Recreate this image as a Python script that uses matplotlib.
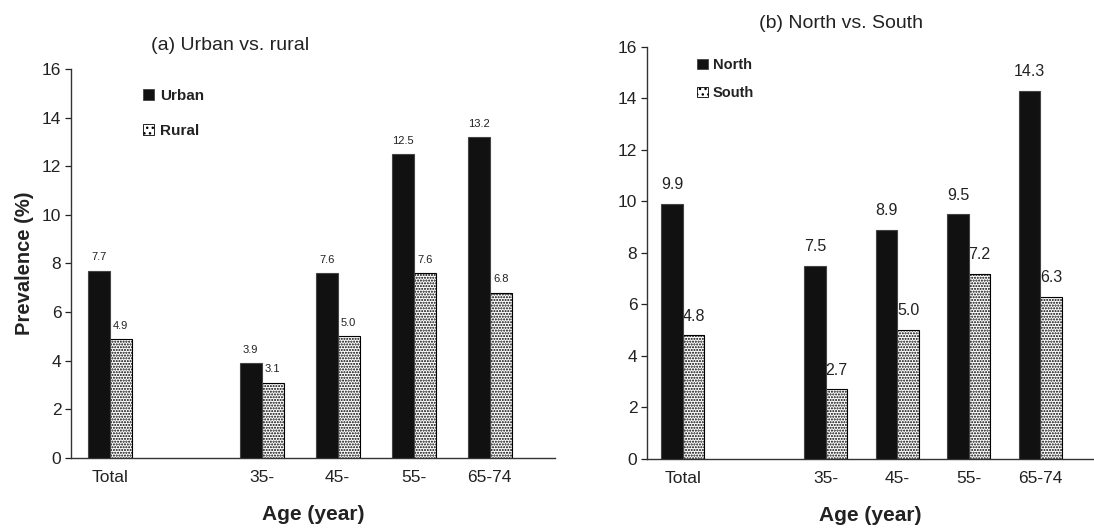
import matplotlib
matplotlib.use('Agg')

import matplotlib.pyplot as plt
from matplotlib.patches import Patch

plt.rcParams['font.family'] = ['Liberation Sans', 'DejaVu Sans']
plt.rcParams['hatch.linewidth'] = 1.0

# categories (slot 1 is left empty between Total and the age groups)
categories = ['Total', '35-', '45-', '55-', '65-74']
positions = [0, 2, 3, 4, 5]

urban = [7.7, 3.9, 7.6, 12.5, 13.2]
rural = [4.9, 3.1, 5.0, 7.6, 6.8]
north = [9.9, 7.5, 8.9, 9.5, 14.3]
south = [4.8, 2.7, 5.0, 7.2, 6.3]

yticks = [0, 2, 4, 6, 8, 10, 12, 14, 16]

dark = '#111111'
ink = '#222222'

fig = plt.figure(figsize=(10.94, 5.28), dpi=100, facecolor='white')
ax_a = fig.add_axes([0.0649, 0.1326, 0.4424, 0.7367])
ax_b = fig.add_axes([0.5914, 0.1307, 0.4086, 0.7803])


def draw_panel(ax, solid, dotted, names, width, xlim, val_size, val_off,
               legend_xy, legend_size, legend_gap):
    xs_solid = [p - width / 2 for p in positions]
    xs_dotted = [p + width / 2 for p in positions]
    ax.bar(xs_solid, solid, width, color=dark, edgecolor='#444444',
           linewidth=0.8, zorder=3)
    ax.bar(xs_dotted, dotted, width, color='white', edgecolor='black',
           hatch='......', linewidth=0.8, zorder=2)

    for x, v in zip(xs_solid, solid):
        ax.annotate(f'{v:.1f}', (x, v), xytext=(0, val_off),
                    textcoords='offset points', ha='center', va='bottom',
                    fontsize=val_size, color=ink, zorder=4)
    # dotted-bar labels sit under the solid bars where they overlap
    for x, v in zip(xs_dotted, dotted):
        ax.annotate(f'{v:.1f}', (x, v), xytext=(0, val_off),
                    textcoords='offset points', ha='center', va='bottom',
                    fontsize=val_size, color=ink, zorder=2.5)

    ax.set_xlim(*xlim)
    ax.set_ylim(0, 16)
    ax.set_yticks(yticks)
    ax.set_xticks(positions)
    ax.set_xticklabels(categories)
    ax.tick_params(axis='x', length=0, pad=9, labelsize=12.5, colors=ink)
    ax.tick_params(axis='y', length=4, width=0.9, pad=3, labelsize=12.5,
                   colors=ink, direction='out')
    for s in ['top', 'right']:
        ax.spines[s].set_visible(False)
    for s in ['left', 'bottom']:
        ax.spines[s].set_color('#333333')
        ax.spines[s].set_linewidth(1.0)
    ax.set_xlabel('Age (year)', fontsize=15, fontweight='bold', color=ink,
                  labelpad=14)

    handles = [Patch(facecolor=dark, edgecolor='#444444', linewidth=0.6),
               Patch(facecolor='white', edgecolor='black', hatch='...',
                     linewidth=0.6)]
    leg = ax.legend(handles, names, loc='upper left', bbox_to_anchor=legend_xy,
                    bbox_transform=fig.transFigure, frameon=False,
                    borderpad=0, borderaxespad=0, handlelength=0.75,
                    handleheight=0.75, handletextpad=0.35,
                    labelspacing=legend_gap,
                    prop={'size': legend_size, 'weight': 'bold'})
    for t in leg.get_texts():
        t.set_color(ink)


draw_panel(ax_a, urban, rural, ['Urban', 'Rural'], 0.29, (-0.51, 5.86),
           8, 6, (0.1307, 0.832), 11, 1.4)
draw_panel(ax_b, north, south, ['North', 'South'], 0.30, (-0.5, 5.75),
           11.5, 8.5, (0.637, 0.890), 10.5, 0.95)

ax_a.set_ylabel('Prevalence (%)', fontsize=14.5, fontweight='bold', color=ink,
                labelpad=6)
fig.text(230 / 1094, 1 - 45 / 528, '(a) Urban vs. rural', ha='center',
         va='center', fontsize=14, color=ink)
fig.text(841 / 1094, 1 - 23 / 528, '(b) North vs. South', ha='center',
         va='center', fontsize=14, color=ink)

fig.savefig('out.png', dpi=100, facecolor='white')
